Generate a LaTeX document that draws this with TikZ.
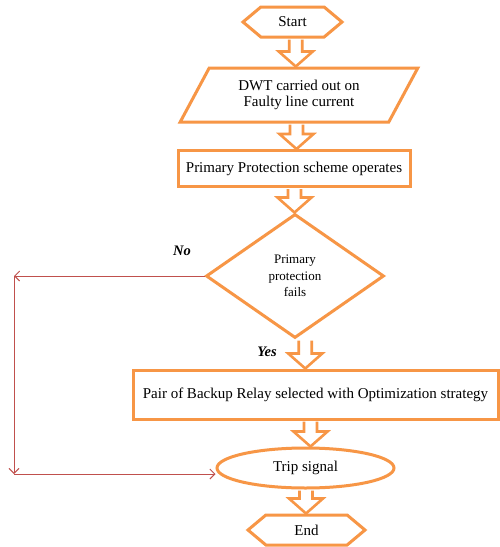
\documentclass[tikz,border=0pt]{standalone}
\usepackage{fontspec}
\setmainfont{Liberation Serif}
\usetikzlibrary{shapes.geometric,shapes.symbols,arrows.meta,calc}
\definecolor{orng}{HTML}{F79646}
\definecolor{redl}{HTML}{C0504D}
\newcommand\blockarrow[2]{%
  \path let \p1=(#1), \p2=(#2), \p3=($(#1)!0.5!(#2)$) in
    [draw=orng, line width=2.6pt, fill=white, line join=miter]
    (\x3-6.5pt,\y1-1.2pt) -- (\x3-6.5pt,\y2+15pt) -- (\x3-17pt,\y2+15pt) -- (\x3,\y2)
    -- (\x3+17pt,\y2+15pt) -- (\x3+6.5pt,\y2+15pt) -- (\x3+6.5pt,\y1-1.2pt);}
\begin{document}
\begin{tikzpicture}[x=1pt,y=-1pt,
  shp/.style={draw=orng,line width=3pt,fill=white,inner sep=0pt,
    font=\fontsize{15}{16.5}\selectfont,align=center},
  hexa/.style={shp,signal,signal to=west and east,signal pointer angle=80},
  redarrow/.style={draw=redl,line width=0.9pt,-{Straight Barb[length=5pt,width=10pt]}},
  lbl/.style={font=\fontsize{14.5}{16}\selectfont\bfseries\itshape}
]
\useasboundingbox (0,0) rectangle (500,547);
\fill[white] (0,0) rectangle (500,547);

\node[hexa,minimum width=99pt,minimum height=30pt] (start) at (292.5,22) {Start};
\node[shp,trapezium,trapezium left angle=57,trapezium right angle=123,
  trapezium stretches=true,minimum width=238pt,minimum height=54pt] (dwt) at (299,95)
  {DWT carried out on\\Faulty line current};
\node[shp,rectangle,minimum width=232pt,minimum height=36pt] (prim) at (294,168.5)
  {Primary Protection scheme operates};
\node[shp,diamond,minimum width=178pt,minimum height=124pt,
  font=\fontsize{13}{16.5}\selectfont] (dia) at (295,276)
  {Primary\\protection\\fails};
\node[shp,rectangle,minimum width=365pt,minimum height=49pt] (backup) at (315.5,394.5)
  {Pair of Backup Relay selected with Optimization strategy};
\node[shp,ellipse,minimum width=177pt,minimum height=40pt] (trip) at (305.5,468)
  {Trip signal};
\node[hexa,minimum width=117pt,minimum height=30pt] (end) at (306.5,530) {End};

\blockarrow{start.south}{dwt.north}
\blockarrow{dwt.south}{prim.north}
\blockarrow{prim.south}{dia.north}
\blockarrow{dia.south}{backup.north}
\blockarrow{backup.south}{trip.north}
\blockarrow{trip.south}{end.north}

\coordinate (c1) at (14,276);
\coordinate (c2) at (14,474);
\draw[redarrow] (dia.west) -- (c1);
\draw[redarrow] (c1) -- (c2);
\draw[redarrow] (c2) -- (c2 -| trip.west);

\node[lbl] (no) at (182,251) {No};
\node[lbl] (yes) at (267,352) {Yes};
\end{tikzpicture}
\end{document}
